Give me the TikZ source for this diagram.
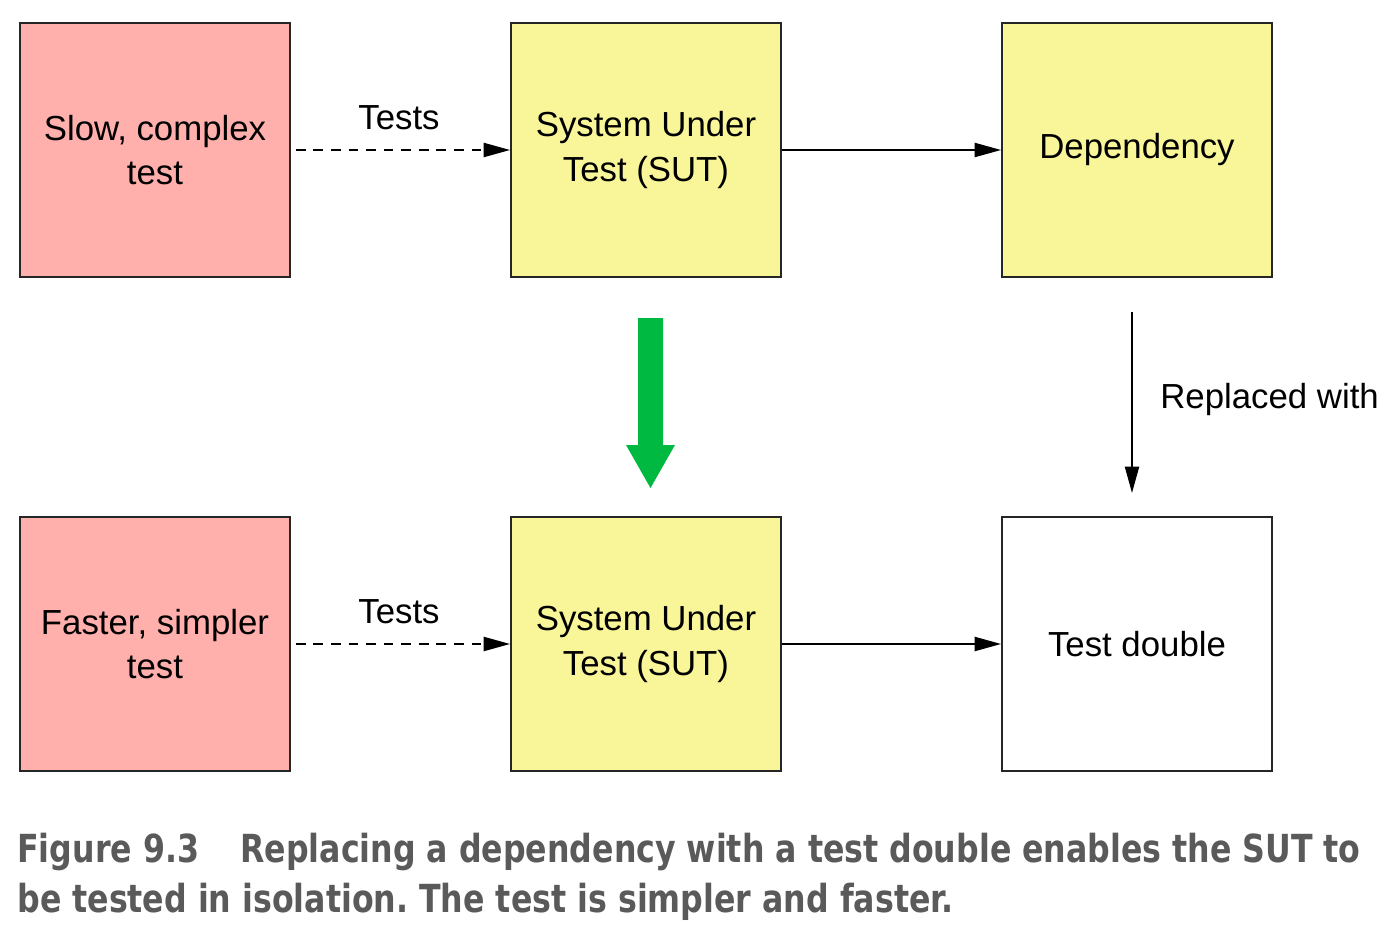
\documentclass[tikz,border=0pt]{standalone}
\usepackage{fontspec}
\setmainfont{Liberation Sans}
\newfontfamily\piefont{DejaVu Sans Condensed}[BoldFont={DejaVu Sans Condensed Bold}, BoldFeatures={FakeStretch=0.91}]
\usetikzlibrary{arrows.meta,positioning}
\definecolor{cajarosa}{RGB}{255,175,172}
\definecolor{cajaamarilla}{RGB}{249,245,153}
\definecolor{verdeflecha}{RGB}{0,185,64}
\definecolor{grispie}{RGB}{90,90,90}
\frenchspacing
\begin{document}
\begin{tikzpicture}[x=0.02cm, y=-0.02cm,
	caja/.style={draw=black!85, line width=1.1pt, minimum width=5.4cm, minimum height=5.08cm, inner sep=0pt, align=center, font=\fontsize{19.8}{25.5}\selectfont},
	prueba/.style={caja, fill=cajarosa},
	sistema/.style={caja, fill=cajaamarilla},
	doble/.style={caja, fill=white},
	etiqueta/.style={font=\fontsize{19.8}{25.5}\selectfont, inner sep=0pt},
	flecha/.style={line width=1.1pt, -{Triangle[length=15pt,width=8pt]}},
	pie/.style={font=\piefont\bfseries\fontsize{22}{28}\selectfont, text=grispie, inner sep=0pt, anchor=base west}]
	\useasboundingbox (0,0) rectangle (1394,926);
		% Fila de arriba
			\node[prueba] (lenta) at (155,150) {Slow, complex\\test};
			\node[sistema] (sut arriba) at (646,150) {System Under\\Test (SUT)};
			\node[sistema] (dependencia) at (1137,150) {Dependency};
		% Fila de abajo
			\node[prueba] (rapida) at (155,644) {Faster, simpler\\test};
			\node[sistema] (sut abajo) at (646,644) {System Under\\Test (SUT)};
			\node[doble] (doble) at (1137,644) {Test double};
		% Flechas
			\draw[flecha, dashed, dash pattern=on 5.5pt off 4.5pt, shorten <=2.8pt] (lenta) -- (sut arriba);
			\draw[flecha] (sut arriba) -- (dependencia);
			\draw[flecha, dashed, dash pattern=on 5.5pt off 4.5pt, shorten <=2.8pt] (rapida) -- (sut abajo);
			\draw[flecha] (sut abajo) -- (doble);
			\node[etiqueta] (tests arriba) at (399,118) {Tests};
			\node[etiqueta] (tests abajo) at (399,612) {Tests};
		% Reemplazo
			\coordinate (reemplazo ini) at (1132,312);
			\coordinate (reemplazo fin) at (1132,493);
			\draw[flecha] (reemplazo ini) -- (reemplazo fin);
			\node[etiqueta, anchor=west] (reemplazado) at (1160,400) {Replaced with};
		% Flecha verde
			\fill[verdeflecha] (638,318) -- (663,318) -- (663,445) -- (675,445) -- (650.5,488) -- (626,445) -- (638,445) -- cycle;
		% Pie de figura
			\node[pie] (pie num) at (17,862) {Figure 9.3};
			\node[pie] (pie uno) at (240,862) {Replacing a dependency with a test double enables the SUT to};
			\node[pie] (pie dos) at (17,912) {be tested in isolation. The test is simpler and faster.};
\end{tikzpicture}
\end{document}
